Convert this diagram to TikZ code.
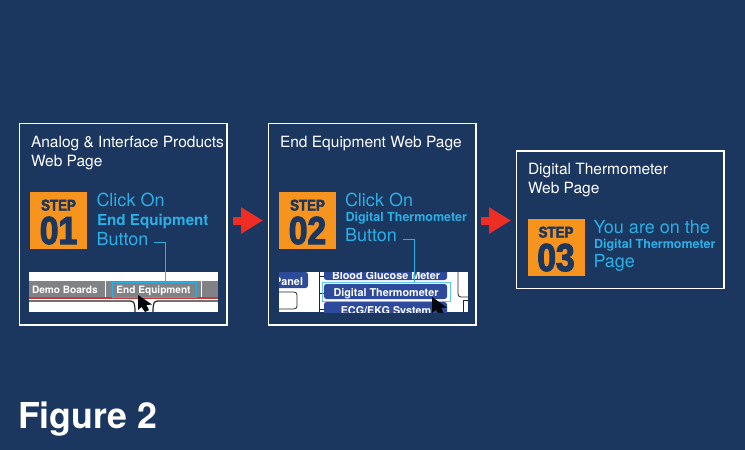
\documentclass[tikz,border=0pt]{standalone}
\usepackage{fontspec}
\setmainfont{TeX Gyre Heros}
\newfontfamily\heavyfont[FakeBold=3,FakeStretch=0.86]{Liberation Sans Bold}
\usetikzlibrary{arrows.meta,calc}
\definecolor{navy}{HTML}{1B365F}
\definecolor{skyc}{HTML}{2BB0E6}
\definecolor{orangec}{HTML}{F7941D}
\definecolor{redc}{HTML}{EE2E24}
\definecolor{tabgrey}{HTML}{808285}
\definecolor{btnblue}{HTML}{2E4B9B}
\definecolor{hlc}{HTML}{5CC8EE}
\tikzset{
  every node/.style={inner sep=0pt,outer sep=0pt},
  pagebox/.style={draw=white,line width=1.3pt,fill=navy,anchor=north west},
  titletext/.style={anchor=base west,text=white,font=\fontsize{15.5}{15.5}\selectfont},
  bigtext/.style={anchor=base west,text=skyc,font=\fontsize{18}{18}\selectfont},
  boldtext/.style={anchor=base west,text=skyc,font=\fontsize{15.2}{15.2}\selectfont\bfseries},
  smallbold/.style={anchor=base west,text=skyc,font=\fontsize{12.5}{12.5}\selectfont\bfseries},
  stepsq/.style={fill=orangec,minimum width=57pt,minimum height=57pt,anchor=north west},
  steplabel/.style={anchor=base,text=navy,font=\fontsize{15.5}{15.5}\heavyfont},
  stepnum/.style={anchor=base,text=navy,font=\fontsize{39}{39}\heavyfont},
  leader/.style={draw=skyc,line width=0.8pt},
  blockarrow/.style={draw=redc,line width=8pt,-{Triangle[length=22pt,width=25pt,fill=redc]}},
  hlbox/.style={draw=skyc,line width=0.9pt,anchor=north west},
  shot/.style={fill=white,anchor=north west},
  btn/.style={fill=btnblue,rounded corners=2.5pt,text=white,anchor=north west},
  btntext/.style={text=white,font=\fontsize{10.1}{10.1}\selectfont\bfseries},
  btntextb/.style={text=white,font=\fontsize{10.8}{10.8}\selectfont\bfseries},
  shotline/.style={draw=black!85,line width=1.2pt},
}
\begin{document}
\begin{tikzpicture}[x=1pt,y=-1pt]
\useasboundingbox (0,0) rectangle (745,450);
\fill[navy] (0,0) rectangle (745,450);

% page boxes
\node[pagebox,minimum width=207.5pt,minimum height=201.5pt] (box1) at (19.5,123.5) {};
\node[pagebox,minimum width=207.5pt,minimum height=201.5pt] (box2) at (268.5,123.5) {};
\node[pagebox,minimum width=207.5pt,minimum height=137.5pt] (box3) at (516.5,151) {};

% titles
\node[titletext] (t1a) at (31,147) {Analog \& Interface Products};
\node[titletext] (t1b) at (31,166) {Web Page};
\node[titletext] (t2a) at (280,147) {End Equipment Web Page};
\node[titletext] (t3a) at (528,174) {Digital Thermometer};
\node[titletext] (t3b) at (528,193) {Web Page};

% step squares
\node[stepsq] (s1) at (30,192) {};
\node[stepsq] (s2) at (279,192) {};
\node[stepsq] (s3) at (527.5,219) {};
\node[steplabel] (s1a) at (58.5,210.5) {STEP};
\node[stepnum] (s1b) at (58.5,244) {01};
\node[steplabel] (s2a) at (307.5,210.5) {STEP};
\node[stepnum] (s2b) at (307.5,244) {02};
\node[steplabel] (s3a) at (556,237.5) {STEP};
\node[stepnum] (s3b) at (556,271) {03};

% step texts
\node[bigtext] (c1) at (96.5,206) {Click On};
\node[boldtext] (e1) at (97,225) {End Equipment};
\node[bigtext] (btn1) at (96.5,245) {Button};
\node[bigtext] (c2) at (345,206) {Click On};
\node[smallbold] (e2) at (345.5,221) {Digital Thermometer};
\node[bigtext] (btn2) at (345,241) {Button};
\node[bigtext] (c3) at (593.5,233) {You are on the};
\node[smallbold] (e3) at (594,248) {Digital Thermometer};
\node[bigtext] (p3) at (593.5,267) {Page};

% screenshot 1
\node[shot,minimum width=189pt,minimum height=40pt] (shot1) at (29,272) {};
\begin{scope}
\clip (29,272) rectangle (218,312);
\fill[tabgrey] (29,281) rectangle (218,297);
\fill[white] (105,280) rectangle (106,297);
\fill[white] (201,280) rectangle (202,297);
\fill[red!55!tabgrey] (29,297) rectangle (218,299);
\draw[shotline] (29,301) -- (130,301) .. controls (134,301) and (135,303) .. (135,312);
\draw[shotline] (218,301) -- (158,301) .. controls (154,301) and (153,303) .. (153,312);
\node[anchor=base west,btntext] (tab1) at (32,293) {Demo Boards};
\end{scope}
\node[hlbox,minimum width=84pt,minimum height=15pt] (hl1) at (112,282) {};
\node[anchor=base,btntext] (tab2) at (153.5,293) {End Equipment};
\fill[black!85!navy] (138,295) -- (138,310) -- (141.5,307) -- (145,312) -- (149,310) -- (146.5,305) -- (152,304.5) -- cycle;

% screenshot 2
\node[shot,minimum width=189pt,minimum height=40pt] (shot2) at (279,272) {};
\begin{scope}
\clip (279,272) rectangle (468,312);
\draw[shotline,line width=.8pt] (319,272) -- (319,312) (319,276) -- (324,276) (319,293) -- (324,293) (319,309) -- (324,309);
\draw[shotline,line width=.8pt,rounded corners=3pt] (279,292) -- (297,292) -- (297,309) -- (279,309);
\fill[btnblue,rounded corners=2.5pt] (270,272) rectangle (308,288);
\node[btntextb,anchor=base east] (pn) at (303,285) {Panel};
\fill[btnblue,rounded corners=2.5pt] (324,262) rectangle (447,280);
\node[btntextb,anchor=base] (bg) at (386,279) {Blood Glucose Meter};
\fill[btnblue,rounded corners=2.5pt] (324,302) rectangle (447,322);
\node[btntextb,anchor=base] (ecg) at (386,314) {ECG/EKG System};
\draw[shotline,line width=.8pt,rounded corners=3pt] (458,272) -- (458,297) -- (468,297);
\draw[shotline,line width=.8pt] (463,300) -- (463,312) (463,300) -- (468,300);
\end{scope}
\node[btn,minimum width=123pt,minimum height=15pt] (dt) at (324,284) {};
\node[btntextb,anchor=base] (dtt) at (386,296) {Digital Thermometer};
\node[hlbox,draw=hlc,minimum width=128pt,minimum height=19pt] (hl2) at (322,282) {};
\begin{scope}
\clip (279,272) rectangle (468,312);
\fill[black!85!navy] (432,297) -- (432,313) -- (436,310) -- (440,316) -- (444,314) -- (441.5,308) -- (447,307.5) -- cycle;
\end{scope}

% leaders
\coordinate (l1a) at (154,242);
\coordinate (l1b) at (165,242);
\draw[leader] (l1a) -- (l1b) -- (l1b |- hl1.north);
\coordinate (l2a) at (403,239);
\coordinate (l2b) at (414,239);
\draw[leader] (l2a) -- (l2b) -- (l2b |- hl2.north);

% arrows
\coordinate (a1s) at (233,220.5);
\coordinate (a1e) at (263,220.5);
\coordinate (a2s) at (481,220.5);
\coordinate (a2e) at (511,220.5);
\draw[blockarrow] (a1s) -- (a1e);
\draw[blockarrow] (a2s) -- (a2e);

\node[anchor=base west,text=white,font=\fontsize{35.7}{35.7}\selectfont\bfseries] (fig) at (18,428) {Figure 2};
\end{tikzpicture}
\end{document}
